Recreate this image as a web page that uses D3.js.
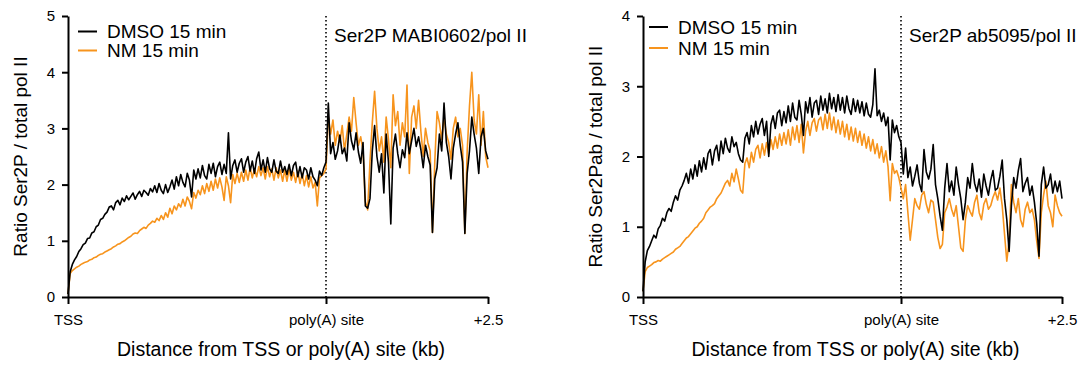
<!DOCTYPE html>
<html><head><meta charset="utf-8">
<script src="https://cdn.jsdelivr.net/npm/d3@7"></script>
<style>body{margin:0;background:#fff}svg{display:block}text{font-family:"Liberation Sans",Arial,sans-serif;fill:#000}</style>
</head><body><svg id="c" width="1091" height="365"></svg>
<script>
// ---- data ----
const seriesNames = ["DMSO 15 min", "NM 15 min"];
const xTickValues = [0, 1, 3.5];
const xTickLabels = ["TSS", "poly(A) site", "+2.5"];
const yTicksLeft = [0, 1, 2, 3, 4, 5];
const yTicksRight = [0, 1, 2, 3, 4];
const titles = ["Ser2P MABI0602/pol II", "Ser2P ab5095/pol II"];
const yLabels = ["Ratio Ser2P / total pol II", "Ratio Ser2Pab / total pol II"];
const xLabel = "Distance from TSS or poly(A) site (kb)";

// Left panel: gene body (TSS -> poly(A), scaled), downstream (0 -> +2.5 kb)
const dmsoBodyL = [0.05,0.45,0.58,0.66,0.72,0.81,0.86,0.93,0.96,1.04,1.05,1.14,1.16,1.25,1.28,1.38,1.40,1.47,1.51,1.60,
1.62,1.55,1.68,1.72,1.64,1.76,1.70,1.80,1.73,1.79,1.85,1.74,1.82,1.88,1.79,1.90,1.86,1.81,1.93,1.87,
1.98,1.86,2.02,1.90,1.84,2.00,1.86,1.96,2.08,1.92,2.14,1.98,2.18,2.04,1.96,2.20,2.08,1.78,2.26,2.10,
2.28,2.12,2.34,2.16,2.10,2.36,2.20,2.38,2.14,2.32,2.40,2.18,2.36,2.20,2.92,2.10,2.34,2.44,2.22,2.38,
2.46,2.22,2.40,2.50,2.24,2.42,2.20,2.46,2.58,2.26,2.44,2.22,2.48,2.28,2.22,2.44,2.24,2.20,2.42,2.22,
2.32,2.18,2.36,2.16,2.34,2.40,2.14,2.32,2.12,2.30,2.26,2.10,2.30,2.14,2.08,1.98,2.24,2.16,2.30,2.40];
const nmBodyL = [0.05,0.42,0.47,0.50,0.53,0.55,0.58,0.60,0.62,0.63,0.66,0.67,0.70,0.71,0.74,0.76,0.77,0.80,0.82,0.84,
0.86,0.89,0.91,0.94,0.95,0.98,1.00,1.03,1.06,1.08,1.12,1.14,1.13,1.18,1.21,1.24,1.22,1.28,1.31,1.35,
1.33,1.40,1.36,1.45,1.38,1.50,1.42,1.58,1.48,1.62,1.55,1.66,1.60,1.74,1.62,1.78,1.70,1.57,1.86,1.76,
1.90,1.82,1.98,1.84,2.02,1.88,2.06,1.90,2.10,1.94,2.12,1.96,1.72,2.14,1.98,1.68,2.18,2.02,2.20,2.04,
2.22,2.06,2.26,2.08,2.30,2.12,2.28,2.14,2.32,2.16,2.30,2.10,2.32,2.14,2.28,2.08,2.30,2.12,2.26,2.06,
2.26,2.06,2.28,2.08,2.22,2.04,2.24,2.02,2.20,1.98,2.16,1.96,2.14,1.94,2.04,1.62,2.12,2.16,2.20,2.28];
const dmsoDownL = [3.45,2.55,2.75,2.45,2.60,2.88,2.55,2.65,2.42,3.10,2.78,2.62,2.92,2.58,2.38,2.75,1.62,1.58,1.75,2.60,
3.05,2.50,2.22,2.55,1.85,2.90,2.40,1.30,2.65,2.90,2.55,2.30,2.62,2.48,2.92,2.55,2.78,3.00,2.68,2.85,
2.62,2.30,2.70,2.50,2.35,1.15,2.10,2.30,2.90,2.60,3.45,2.75,2.50,2.10,2.65,2.90,3.10,2.70,2.40,1.13,
2.20,2.60,3.20,2.90,2.65,2.20,2.85,3.00,2.60,2.45];
const nmDownL = [3.20,2.90,3.15,2.70,2.95,2.75,3.05,2.60,2.90,3.20,2.95,3.55,3.10,2.70,2.85,2.60,1.70,1.55,2.40,3.10,
3.66,3.00,2.60,2.85,2.40,3.20,2.80,2.30,3.60,3.05,3.30,2.70,3.10,2.85,3.77,2.20,3.20,3.40,3.00,3.50,
2.95,2.50,3.00,2.75,2.60,1.15,2.40,3.30,3.10,2.80,3.20,2.90,2.75,2.45,3.00,3.20,2.85,3.00,2.70,1.13,
2.60,3.40,4.00,3.15,2.90,3.60,2.70,3.30,2.50,2.30];

// Right panel
const dmsoBodyR = [0.08,0.50,0.66,0.72,0.80,0.88,0.84,0.97,1.02,1.12,1.08,1.20,1.26,1.22,1.35,1.44,1.38,1.52,1.58,1.66,
1.76,1.62,1.82,1.68,1.88,1.72,1.94,1.78,1.98,1.82,2.04,2.10,1.88,2.08,2.16,1.94,2.22,2.04,2.26,2.12,
2.06,2.28,2.14,2.20,2.04,1.95,1.92,2.26,2.34,2.18,2.44,2.28,2.50,2.32,2.46,2.54,2.30,2.50,2.00,2.46,
2.58,2.40,2.62,2.66,2.44,2.64,2.48,2.72,2.50,2.76,2.56,2.52,2.80,2.60,2.30,2.78,2.62,2.84,2.56,2.76,
2.80,2.60,2.86,2.66,2.82,2.62,2.90,2.68,2.84,2.64,2.88,2.66,2.84,2.62,2.86,2.68,2.60,2.82,2.64,2.80,
2.62,2.78,2.58,2.76,2.60,2.56,2.74,3.25,2.58,2.66,2.50,2.62,2.44,2.56,1.95,2.52,2.34,2.44,2.28,2.20];
const nmBodyR = [0.08,0.36,0.42,0.44,0.46,0.49,0.50,0.52,0.51,0.54,0.56,0.58,0.60,0.62,0.64,0.68,0.70,0.72,0.76,0.80,
0.84,0.86,0.90,0.94,0.98,1.00,1.05,1.08,1.12,1.20,1.24,1.28,1.30,1.33,1.40,1.44,1.48,1.55,1.62,1.66,
1.58,1.76,1.64,1.82,1.68,1.52,1.48,1.90,1.98,1.84,2.06,1.92,2.10,2.16,1.98,2.18,2.02,2.20,2.04,2.24,
2.10,2.28,2.12,2.32,2.16,2.34,2.18,2.38,2.16,2.42,2.24,2.44,2.20,2.46,2.05,2.36,2.50,2.30,2.48,2.54,
2.36,2.52,2.56,2.38,2.60,2.40,2.62,2.38,2.56,2.34,2.52,2.32,2.50,2.28,2.46,2.24,2.42,2.22,2.40,2.20,
2.36,2.16,2.32,2.12,2.28,2.08,2.24,2.04,2.18,1.98,2.14,1.92,2.08,1.86,1.37,1.90,1.76,1.80,1.70,1.55];
const dmsoDownR = [1.75,2.12,1.70,1.85,1.58,1.72,1.88,1.62,1.50,2.10,1.78,1.68,1.82,2.17,1.60,1.40,1.15,0.95,1.55,1.90,
1.50,1.65,1.45,1.85,1.60,1.40,1.10,1.35,1.70,1.55,1.90,1.62,1.50,1.68,1.42,1.75,1.58,1.45,1.66,1.80,
1.52,1.55,1.72,1.95,1.40,1.10,0.65,1.30,1.70,1.55,1.80,1.97,1.50,1.62,1.70,1.45,1.58,1.35,1.05,0.58,
1.60,1.85,1.55,1.60,1.75,1.48,1.65,1.50,1.65,1.40];
const nmDownR = [1.40,1.60,1.20,0.81,1.10,1.40,1.30,1.25,1.45,1.50,1.32,1.20,1.38,1.35,1.10,0.85,0.69,0.75,1.20,1.28,
1.40,1.25,1.15,1.30,1.00,0.70,0.65,1.10,1.30,1.22,1.15,1.35,1.45,1.20,1.10,1.32,1.40,1.25,1.30,1.42,
1.50,1.38,1.55,1.30,0.90,0.51,0.80,1.60,1.35,1.20,1.40,1.10,1.00,1.25,1.35,1.20,1.25,1.10,0.80,0.55,
1.20,1.45,1.65,1.30,1.20,1.00,1.45,1.30,1.20,1.15];

const colors = ["#000000", "#F7941D"];

// ---- drawing ----
const svg = d3.select("#c");

function build(body, down) {
  const pts = body.map((v, i) => ({x: i / (body.length - 1), v}));
  down.forEach((v, j) => pts.push({x: 1 + 2.5 * (j + 1) / down.length, v}));
  return pts;
}

const panels = [
  {x0: 68, x1: 326, x2: 488, yMax: 5, yTicks: yTicksLeft, dmso: build(dmsoBodyL, dmsoDownL), nm: build(nmBodyL, nmDownL),
   title: titles[0], yLabel: yLabels[0], legY: [31.5, 50.5], legX: 78},
  {x0: 643, x1: 901, x2: 1062, yMax: 4, yTicks: yTicksRight, dmso: build(dmsoBodyR, dmsoDownR), nm: build(nmBodyR, nmDownR),
   title: titles[1], yLabel: yLabels[1], legY: [27, 48], legX: 649}
];

const yTop = 16, yBot = 297;

panels.forEach(p => {
  const x = d3.scaleLinear().domain(xTickValues).range([p.x0, p.x1, p.x2]);
  const y = d3.scaleLinear().domain([0, p.yMax]).range([yBot, yTop]);
  const g = svg.append("g");

  // dotted poly(A) line
  g.append("line").attr("x1", x(1)).attr("x2", x(1)).attr("y1", yTop).attr("y2", yBot)
    .attr("stroke", "#000").attr("stroke-width", 1.6).attr("stroke-dasharray", "1.4,2.6");

  const line = d3.line().x(d => x(d.x)).y(d => y(d.v));
  g.append("path").datum(p.nm).attr("d", line).attr("fill", "none")
    .attr("stroke", colors[1]).attr("stroke-width", 1.6).attr("stroke-linejoin", "round");
  g.append("path").datum(p.dmso).attr("d", line).attr("fill", "none")
    .attr("stroke", colors[0]).attr("stroke-width", 1.6).attr("stroke-linejoin", "round");

  // axes
  const ya = g.append("g").attr("transform", `translate(${p.x0},0)`)
    .call(d3.axisLeft(y).tickValues(p.yTicks).tickFormat(d3.format("d")).tickSize(6).tickSizeOuter(0).tickPadding(7));
  const xa = g.append("g").attr("transform", `translate(0,${yBot})`)
    .call(d3.axisBottom(x).tickValues(xTickValues).tickFormat((d, i) => xTickLabels[i]).tickSize(7).tickSizeOuter(0).tickPadding(10));
  [ya, xa].forEach(a => {
    a.select(".domain").attr("stroke-width", 2);
    a.selectAll(".tick line").attr("stroke-width", 2);
    a.selectAll("text").style("font-size", "15px").attr("font-family", "Liberation Sans, Arial, sans-serif");
  });

  // title
  g.append("text").attr("x", x(1) + 8).attr("y", 42).style("font-size", "19px").text(p.title);

  // legend
  seriesNames.forEach((n, i) => {
    g.append("line").attr("x1", p.legX).attr("x2", p.legX + 19).attr("y1", p.legY[i]).attr("y2", p.legY[i])
      .attr("stroke", colors[i]).attr("stroke-width", 2);
    g.append("text").attr("x", p.legX + 29).attr("y", p.legY[i] + 6.5).style("font-size", "19px").text(n);
  });

  // axis labels
  g.append("text").attr("text-anchor", "middle")
    .attr("transform", `translate(${p.x0 - 41},${(yTop + yBot) / 2}) rotate(-90)`)
    .style("font-size", "19px").text(p.yLabel);
  g.append("text").attr("text-anchor", "middle").attr("x", (p.x0 + p.x2) / 2 + 3).attr("y", 356)
    .style("font-size", "19.5px").text(xLabel);
});
</script></body></html>
